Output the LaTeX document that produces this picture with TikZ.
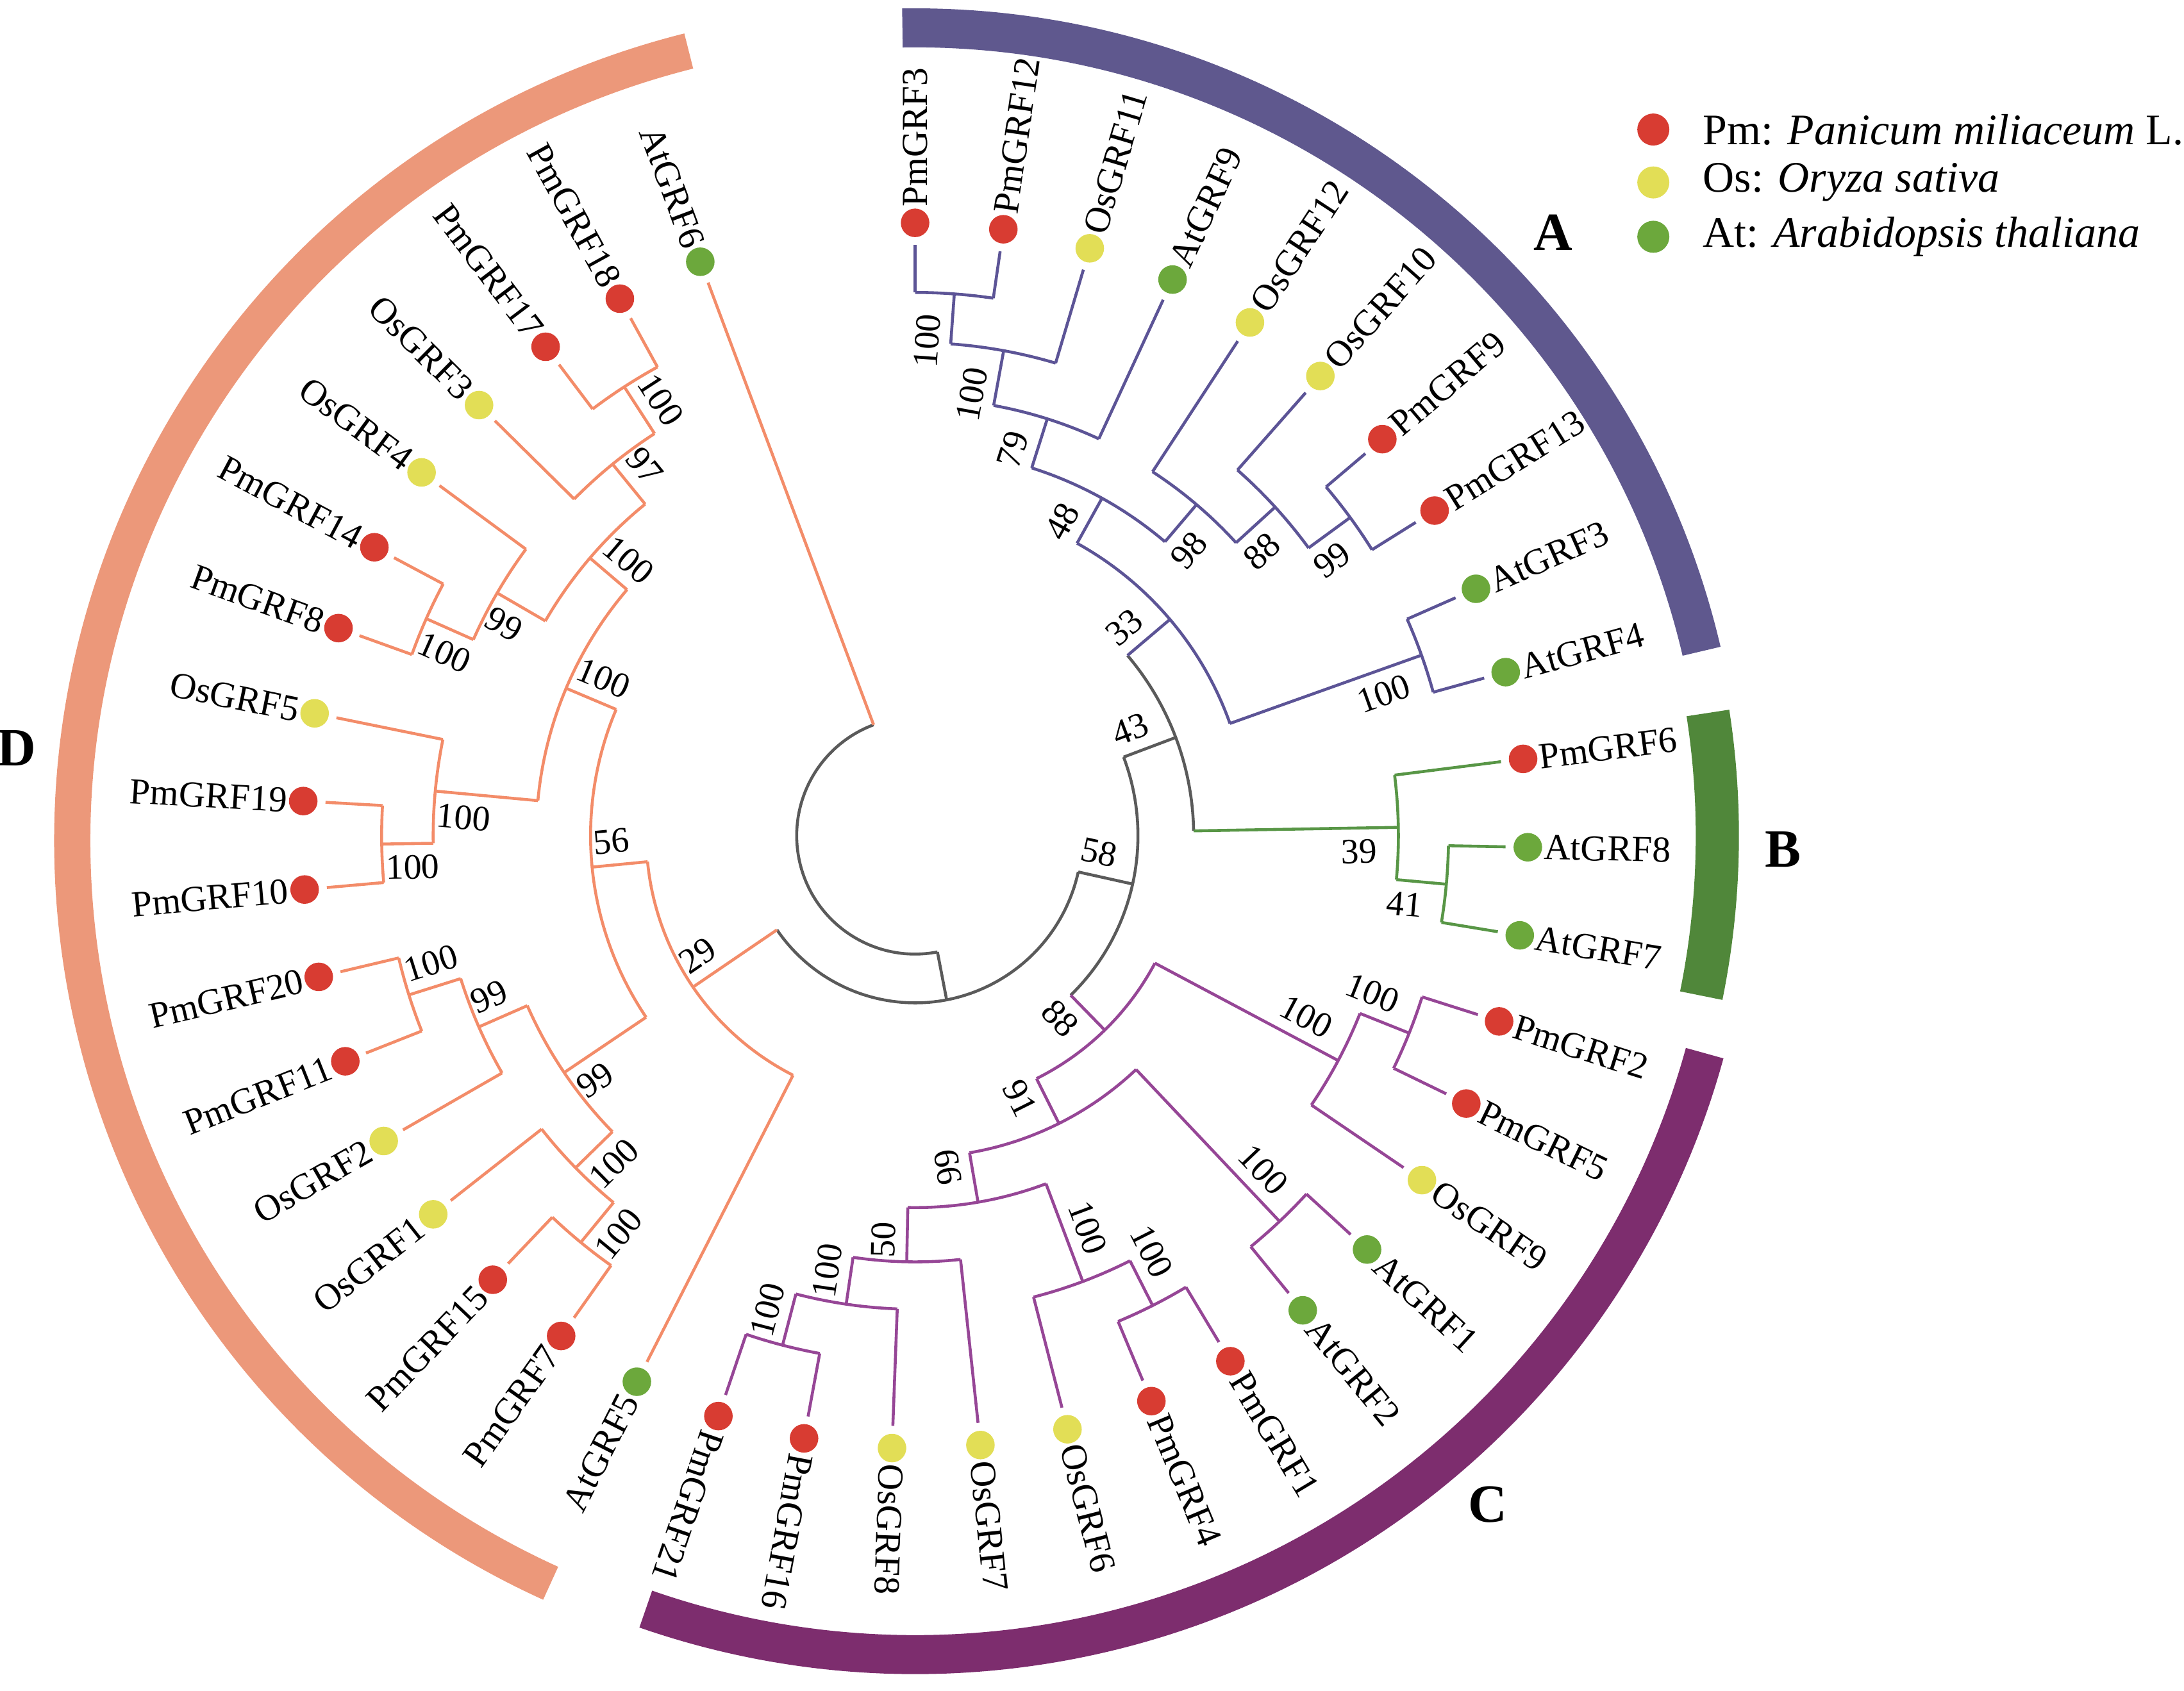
\documentclass[tikz,border=0pt]{standalone}
\usepackage{fontspec}
\setmainfont{Liberation Serif}
\usetikzlibrary{calc}
\tikzset{>=latex}
\definecolor{cladeA}{RGB}{92,84,150}
\definecolor{cladeB}{RGB}{88,150,70}
\definecolor{cladeC}{RGB}{150,70,150}
\definecolor{cladeD}{RGB}{243,140,105}
\definecolor{spine}{RGB}{90,90,90}
\definecolor{bandA}{RGB}{95,88,142}
\definecolor{bandB}{RGB}{80,135,58}
\definecolor{bandC}{RGB}{125,45,110}
\definecolor{bandD}{RGB}{236,152,122}
\definecolor{pmred}{RGB}{216,60,50}
\definecolor{osyellow}{RGB}{226,222,86}
\definecolor{atgreen}{RGB}{108,168,60}
\tikzstyle{branch}=[line width=0.6pt]
\tikzstyle{dot}=[circle,inner sep=0pt,minimum size=2.05mm]
\tikzstyle{gene}=[inner sep=0pt,font=\fontsize{7.5}{9}\selectfont]
\tikzstyle{boot}=[inner sep=0pt,font=\fontsize{7.3}{9}\selectfont]
\tikzstyle{band}=[line width=2.8mm]
\tikzstyle{cladename}=[font=\fontsize{11}{13}\selectfont\bfseries]
\tikzstyle{legend}=[inner sep=0pt,font=\fontsize{8.9}{10}\selectfont]

\def\Rdot{440}  % leaf dots
\def\Rtip{424}  % end of leaf branches
\def\Rtext{451} % leaf labels
\def\dang{8.28} % angle between two leaves

% name, index, branch colour, dot colour
\newcommand{\leafnode}[4]{%
  \pgfmathsetmacro\leafang{90-\dang*#2}%
  \expandafter\xdef\csname ang@#1\endcsname{\leafang}%
  \expandafter\xdef\csname rad@#1\endcsname{\Rtip}%
  \expandafter\xdef\csname col@#1\endcsname{#3}%
  \expandafter\gdef\csname bs@#1\endcsname{}%
  \coordinate (#1) at (\leafang:\Rtip);
  \node[dot,fill=#4] (#1-dot) at (\leafang:\Rdot) {};
  \ifdim\leafang pt>-112.5pt
    \node[gene,anchor=west,rotate=\leafang] (#1-txt) at (\leafang:\Rtext) {#1};
  \else
    \node[gene,anchor=east,rotate=\leafang+180] (#1-txt) at (\leafang:\Rtext) {#1};
  \fi
}

% child, side of its bootstrap value
\newcommand{\stemline}[2]{%
  \edef\stemcol{\csname col@#1\endcsname}%
  \draw[branch,\stemcol] (#1-b) -- (#1);
  \edef\bsval{\csname bs@#1\endcsname}%
  \ifx\bsval\empty\else
    \pgfmathsetmacro\stemang{\csname ang@#1\endcsname}%
    \pgfmathsetmacro\perpang{\stemang+#2}%
    \pgfmathtruncatemacro\rightside{cos(\stemang)>0}%
    \ifnum\rightside=1
      \pgfmathsetmacro\bsrad{\csname rad@#1\endcsname-15}%
      \node[boot,anchor=east,rotate=\stemang] (#1-bs) at ($(\stemang:\bsrad)+(\perpang:17)$) {\bsval};
    \else
      \pgfmathsetmacro\bsrad{\csname rad@#1\endcsname-2}%
      \node[boot,anchor=west,rotate=\stemang+180] (#1-bs) at ($(\stemang:\bsrad)+(\perpang:17)$) {\bsval};
    \fi
  \fi
}

% name, first child, second child, radius, colour, bootstrap
\newcommand{\cladenode}[6]{%
  \pgfmathsetmacro\angA{\csname ang@#2\endcsname}%
  \pgfmathsetmacro\angB{\csname ang@#3\endcsname}%
  \pgfmathsetmacro\angM{(\angA+\angB)/2}%
  \expandafter\xdef\csname ang@#1\endcsname{\angM}%
  \expandafter\xdef\csname rad@#1\endcsname{#4}%
  \expandafter\xdef\csname col@#1\endcsname{#5}%
  \expandafter\xdef\csname bs@#1\endcsname{#6}%
  \coordinate (#1) at (\angM:#4);
  \coordinate (#2-b) at (\angA:#4);
  \coordinate (#3-b) at (\angB:#4);
  \draw[branch,#5] (#2-b) arc[start angle=\angA,end angle=\angB,radius=#4];
  \pgfmathsetmacro\sideA{\angA>\angB ? 90 : -90}%
  \pgfmathsetmacro\sideB{\angB>\angA ? 90 : -90}%
  \stemline{#2}{\sideA}%
  \stemline{#3}{\sideB}%
}

\begin{document}
\begin{tikzpicture}[x=0.1mm,y=0.1mm]
  \useasboundingbox (-657,-614) rectangle (911,600);

  % BANDS
  \draw[band,bandA] (90.9:580) arc[start angle=90.9,end angle=13.2,radius=580];
  \draw[band,bandB,line width=3.1mm] (8.8:576) arc[start angle=8.8,end angle=-11.5,radius=576];
  \draw[band,bandC] (-15.4:588) arc[start angle=-15.4,end angle=-109.2,radius=588];
  \draw[band,bandD,line width=2.6mm,shift={(-20,-4)}] (104.1:585) arc[start angle=104.1,end angle=245.6,radius=585];
  \node[cladename] (A) at (458,433) {A};
  \node[cladename] (B) at (623,-10) {B};
  \node[cladename] (C) at (411,-480) {C};
  \node[cladename] (D) at (-645,63) {D};

  % LEAVES
  \foreach \gname/\bcol/\dcol [count=\i from 0] in {
      PmGRF3/cladeA/pmred, PmGRF12/cladeA/pmred, OsGRF11/cladeA/osyellow,
      AtGRF9/cladeA/atgreen, OsGRF12/cladeA/osyellow, OsGRF10/cladeA/osyellow,
      PmGRF9/cladeA/pmred, PmGRF13/cladeA/pmred, AtGRF3/cladeA/atgreen,
      AtGRF4/cladeA/atgreen,
      PmGRF6/cladeB/pmred, AtGRF8/cladeB/atgreen, AtGRF7/cladeB/atgreen,
      PmGRF2/cladeC/pmred, PmGRF5/cladeC/pmred, OsGRF9/cladeC/osyellow,
      AtGRF1/cladeC/atgreen, AtGRF2/cladeC/atgreen, PmGRF1/cladeC/pmred,
      PmGRF4/cladeC/pmred, OsGRF6/cladeC/osyellow, OsGRF7/cladeC/osyellow,
      OsGRF8/cladeC/osyellow, PmGRF16/cladeC/pmred, PmGRF21/cladeC/pmred,
      AtGRF5/cladeD/atgreen, PmGRF7/cladeD/pmred, PmGRF15/cladeD/pmred,
      OsGRF1/cladeD/osyellow, OsGRF2/cladeD/osyellow, PmGRF11/cladeD/pmred,
      PmGRF20/cladeD/pmred, PmGRF10/cladeD/pmred, PmGRF19/cladeD/pmred,
      OsGRF5/cladeD/osyellow, PmGRF8/cladeD/pmred, PmGRF14/cladeD/pmred,
      OsGRF4/cladeD/osyellow, OsGRF3/cladeD/osyellow, PmGRF17/cladeD/pmred,
      PmGRF18/cladeD/pmred, AtGRF6/cladeD/atgreen}
    {\leafnode{\gname}{\i}{\bcol}{\dcol}}

  % CLADE A
  \cladenode{nA1}{PmGRF3}{PmGRF12}{390}{cladeA}{100}
  \cladenode{nA2}{nA1}{OsGRF11}{354}{cladeA}{100}
  \cladenode{nA3}{nA2}{AtGRF9}{314}{cladeA}{79}
  \cladenode{nA99}{PmGRF9}{PmGRF13}{387}{cladeA}{99}
  \cladenode{nA88}{OsGRF10}{nA99}{350}{cladeA}{88}
  \cladenode{nA98}{OsGRF12}{nA88}{312}{cladeA}{98}
  \cladenode{nA4}{nA3}{nA98}{277}{cladeA}{48}
  \cladenode{nA34}{AtGRF3}{AtGRF4}{386}{cladeA}{100}
  \cladenode{nA5}{nA4}{nA34}{240}{cladeA}{33}

  % CLADE B
  \cladenode{nB41}{AtGRF8}{AtGRF7}{383}{cladeB}{41}
  \cladenode{nB39}{PmGRF6}{nB41}{347}{cladeB}{39}
  \cladenode{n43}{nA5}{nB39}{200}{spine}{43}

  % CLADE C
  \cladenode{nC1}{PmGRF2}{PmGRF5}{382}{cladeC}{100}
  \cladenode{nC2}{nC1}{OsGRF9}{344}{cladeC}{100}
  \cladenode{nC3}{AtGRF1}{AtGRF2}{381}{cladeC}{100}
  \cladenode{nC4}{PmGRF1}{PmGRF4}{378}{cladeC}{100}
  \cladenode{nC5}{nC4}{OsGRF6}{342}{cladeC}{100}
  \cladenode{nC6}{PmGRF16}{PmGRF21}{378}{cladeC}{100}
  \cladenode{nC7}{OsGRF8}{nC6}{340}{cladeC}{100}
  \cladenode{nC50}{OsGRF7}{nC7}{306}{cladeC}{50}
  \cladenode{nC66}{nC5}{nC50}{267}{cladeC}{66}
  \cladenode{nC91}{nC3}{nC66}{231}{cladeC}{91}
  \cladenode{nC88}{nC2}{nC91}{195}{cladeC}{88}
  \cladenode{n58}{n43}{nC88}{160}{spine}{58}

  % CLADE D
  \cladenode{nD1}{PmGRF7}{PmGRF15}{378}{cladeD}{100}
  \cladenode{nD2}{nD1}{OsGRF1}{341}{cladeD}{100}
  \cladenode{nD3}{PmGRF11}{PmGRF20}{381}{cladeD}{100}
  \cladenode{nD4}{OsGRF2}{nD3}{342}{cladeD}{99}
  \cladenode{nD5}{nD2}{nD4}{304}{cladeD}{99}
  \cladenode{nD6}{PmGRF10}{PmGRF19}{383}{cladeD}{100}
  \cladenode{nD7}{nD6}{OsGRF5}{346}{cladeD}{100}
  \cladenode{nD8}{PmGRF8}{PmGRF14}{384}{cladeD}{100}
  \cladenode{nD9}{nD8}{OsGRF4}{347}{cladeD}{99}
  \cladenode{nD10}{PmGRF17}{PmGRF18}{384}{cladeD}{100}
  \cladenode{nD11}{OsGRF3}{nD10}{344}{cladeD}{97}
  \cladenode{nD12}{nD9}{nD11}{307}{cladeD}{100}
  \cladenode{nD13}{nD7}{nD12}{272}{cladeD}{100}
  \cladenode{nD56}{nD5}{nD13}{233}{cladeD}{56}
  \cladenode{nD29}{AtGRF5}{nD56}{193}{cladeD}{29}

  % ROOT
  \cladenode{nR2}{n58}{nD29}{120}{spine}{}
  \cladenode{root}{nR2}{AtGRF6}{85}{spine}{}

  % LEGEND
  \node[dot,fill=pmred,minimum size=2.3mm] (leg-pm) at (530,507) {};
  \node[dot,fill=osyellow,minimum size=2.3mm] (leg-os) at (530,469) {};
  \node[dot,fill=atgreen,minimum size=2.3mm] (leg-at) at (530,430) {};
  \node[legend,anchor=west] (leg-pm-txt) at (565,507) {Pm: \textit{Panicum miliaceum} L.};
  \node[legend,anchor=west] (leg-os-txt) at (565,469) {Os: \textit{Oryza sativa}};
  \node[legend,anchor=west] (leg-at-txt) at (565,430) {At: \textit{Arabidopsis thaliana}};
\end{tikzpicture}
\end{document}
